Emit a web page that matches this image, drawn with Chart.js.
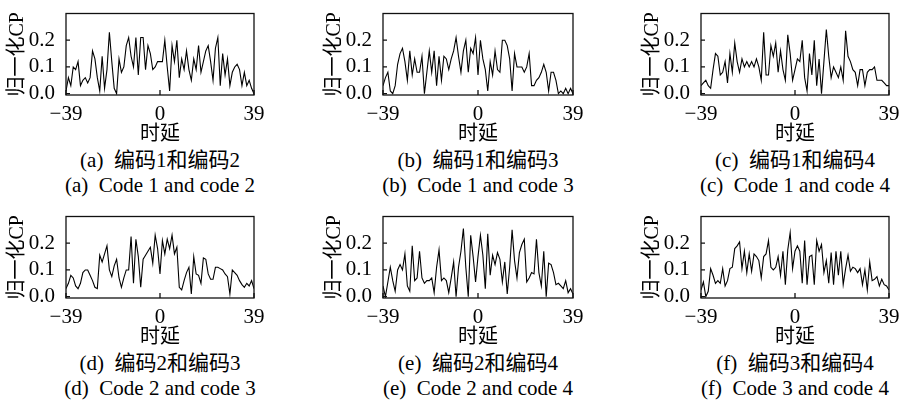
<!DOCTYPE html>
<html>
<head>
<meta charset="utf-8">
<script src="https://cdn.jsdelivr.net/npm/chart.js@4.4.1/dist/chart.umd.min.js"></script>
<style>
  body { margin: 0; background: #fff; width: 901px; height: 405px; position: relative; overflow: hidden; }
  canvas { position: absolute; }
  .cap { position: absolute; width: 280px; text-align: center; font-size: 21px; line-height: 24px;
         font-family: "Liberation Serif", "Noto Sans CJK SC"; color: #000; white-space: pre; }
</style>
</head>
<body>
<script>
// normalised cross-correlation, one list per code pair (lag -39 .. 39)
const cp12 = [0.01,0.06,0.03,0.10,0.09,0.12,0.03,0.05,0.06,0.04,
  0.06,0.16,0.13,0.06,0.01,0.14,0.02,0.09,0.23,0.12,
  0.02,0.00,0.13,0.08,0.10,0.18,0.21,0.14,0.10,0.21,
  0.07,0.21,0.21,0.09,0.18,0.15,0.09,0.10,0.12,0.12,
  0.12,0.20,0.10,0.01,0.18,0.12,0.20,0.06,0.13,0.09,
  0.16,0.09,0.05,0.13,0.09,0.18,0.08,0.12,0.16,0.18,
  0.12,0.05,0.17,0.21,0.03,0.15,0.07,0.13,0.03,0.08,
  0.10,0.11,0.09,0.03,0.08,0.03,0.05,0.02,0.00];
const cp13 = [0.03,0.06,0.08,0.01,0.00,0.03,0.11,0.15,0.17,0.12,
  0.05,0.16,0.07,0.13,0.08,0.08,0.14,0.00,0.08,0.16,
  0.08,0.16,0.03,0.14,0.05,0.14,0.13,0.09,0.13,0.16,
  0.21,0.14,0.08,0.16,0.20,0.08,0.17,0.15,0.21,0.07,
  0.20,0.13,0.09,0.01,0.12,0.07,0.16,0.09,0.08,0.20,
  0.20,0.18,0.13,0.01,0.15,0.10,0.10,0.10,0.08,0.10,
  0.15,0.03,0.03,0.05,0.06,0.08,0.11,0.08,0.01,0.08,
  0.08,0.05,0.00,0.01,0.00,0.02,0.00,0.02,0.00];
const cp14 = [0.03,0.04,0.05,0.03,0.02,0.09,0.15,0.14,0.07,0.08,
  0.12,0.04,0.15,0.08,0.19,0.12,0.08,0.13,0.10,0.12,
  0.10,0.12,0.10,0.13,0.10,0.05,0.23,0.07,0.07,0.18,
  0.14,0.19,0.08,0.16,0.09,0.05,0.22,0.15,0.05,0.09,
  0.13,0.12,0.20,0.06,0.01,0.15,0.07,0.20,0.03,0.13,
  0.00,0.12,0.24,0.14,0.06,0.10,0.08,0.06,0.10,0.05,
  0.235,0.14,0.12,0.09,0.08,0.03,0.09,0.09,0.03,0.08,
  0.09,0.09,0.10,0.05,0.05,0.05,0.04,0.03,0.03];
const cp23 = [0.03,0.05,0.08,0.07,0.04,0.03,0.05,0.09,0.10,0.10,
  0.08,0.06,0.035,0.03,0.155,0.13,0.16,0.19,0.10,0.075,
  0.115,0.14,0.07,0.035,0.07,0.10,0.10,0.225,0.05,0.215,
  0.15,0.035,0.14,0.155,0.17,0.185,0.125,0.23,0.18,0.085,
  0.21,0.16,0.215,0.18,0.23,0.16,0.185,0.035,0.025,0.06,
  0.09,0.11,0.01,0.15,0.085,0.08,0.05,0.145,0.14,0.085,
  0.065,0.065,0.11,0.11,0.105,0.10,0.085,0.075,0.01,0.10,
  0.09,0.08,0.06,0.045,0.035,0.05,0.04,0.06,0.03];
const cp24 = [0.04,0.00,0.055,0.11,0.06,0.02,0.10,0.12,0.10,0.16,
  0.04,0.02,0.19,0.06,0.07,0.17,0.07,0.05,0.06,0.06,
  0.07,0.015,0.11,0.175,0.06,0.07,0.06,0.015,0.07,0.13,
  0.00,0.11,0.17,0.255,0.11,0.00,0.23,0.15,0.055,0.15,
  0.23,0.155,0.03,0.235,0.08,0.155,0.12,0.165,0.14,0.055,
  0.13,0.01,0.11,0.25,0.135,0.07,0.165,0.195,0.215,0.055,
  0.07,0.09,0.085,0.215,0.09,0.04,0.17,0.00,0.125,0.12,
  0.09,0.045,0.05,0.04,0.03,0.06,0.015,0.03,0.01];
const cp34 = [0.025,0.055,0.00,0.02,0.105,0.08,0.05,0.06,0.05,0.105,
  0.04,0.06,0.105,0.11,0.18,0.19,0.205,0.105,0.17,0.09,
  0.16,0.095,0.16,0.15,0.135,0.07,0.15,0.16,0.21,0.11,
  0.10,0.11,0.15,0.08,0.17,0.045,0.175,0.24,0.105,0.17,
  0.19,0.17,0.05,0.21,0.045,0.15,0.155,0.045,0.21,0.17,
  0.195,0.09,0.135,0.05,0.165,0.045,0.17,0.08,0.17,0.045,
  0.105,0.155,0.095,0.11,0.105,0.09,0.105,0.045,0.10,0.025,
  0.13,0.06,0.065,0.075,0.04,0.065,0.045,0.04,0.025];

const lags = [];
for (let k = -39; k <= 39; k++) lags.push(k);

const xTicks = [-39, 0, 39];
const xTickLabels = ['\u221239', '0', '39'];
const yTicks = [0, 0.1, 0.2];

const captionsZh = ['(a)  编码1和编码2', '(b)  编码1和编码3', '(c)  编码1和编码4',
                    '(d)  编码2和编码3', '(e)  编码2和编码4', '(f)  编码3和编码4'];
const captionsEn = ['(a)  Code 1 and code 2', '(b)  Code 1 and code 3', '(c)  Code 1 and code 4',
                    '(d)  Code 2 and code 3', '(e)  Code 2 and code 4', '(f)  Code 3 and code 4'];

const series = [cp12, cp13, cp14, cp23, cp24, cp34];

// plot-area boxes on the page
const boxes = [
  { left: 66, top: 8, w: 188 }, { left: 383, top: 8, w: 190 }, { left: 701, top: 8, w: 188 },
  { left: 66, top: 211, w: 188 }, { left: 383, top: 211, w: 190 }, { left: 701, top: 211, w: 188 }
];

const FONT = '"Liberation Serif", "Noto Sans CJK SC"';
const AXIS_W = 66, AXIS_H = 52, PLOT_H = 87;

const frame = {
  id: 'frame',
  afterDatasetsDraw(chart) {
    const { ctx, chartArea: a, scales } = chart;
    ctx.save();
    ctx.strokeStyle = '#111';
    ctx.lineWidth = 1.3;
    ctx.strokeRect(a.left, a.top, a.right - a.left, a.bottom - a.top);
    ctx.beginPath();
    yTicks.forEach(v => {
      const y = scales.y.getPixelForValue(v);
      ctx.moveTo(a.left, y); ctx.lineTo(a.left + 4, y);
    });
    xTicks.forEach(v => {
      const x = scales.x.getPixelForValue(v);
      ctx.moveTo(x, a.bottom); ctx.lineTo(x, a.bottom - 5);
    });
    ctx.stroke();
    ctx.restore();
  }
};

boxes.forEach((b, i) => {
  const cv = document.createElement('canvas');
  cv.width = b.w + AXIS_W + 12;
  cv.height = 8 + PLOT_H + AXIS_H;
  cv.style.left = (b.left - AXIS_W) + 'px';
  cv.style.top = (b.top - 8) + 'px';
  document.body.appendChild(cv);

  new Chart(cv, {
    type: 'line',
    data: {
      datasets: [{
        data: lags.map((x, j) => ({ x: x, y: series[i][j] })),
        borderColor: '#000',
        borderWidth: 1.1,
        pointRadius: 0,
        tension: 0,
        fill: false
      }]
    },
    options: {
      responsive: false,
      animation: false,
      events: [],
      layout: { padding: { left: 0, top: 8, right: 12, bottom: 0 } },
      plugins: { legend: { display: false }, tooltip: { enabled: false } },
      scales: {
        x: {
          type: 'linear', min: -39, max: 39,
          grid: { display: false }, border: { display: false },
          afterBuildTicks: s => { s.ticks = xTicks.map(v => ({ value: v })); },
          afterFit: s => { s.height = AXIS_H; },
          ticks: {
            font: { family: FONT, size: 21, lineHeight: 1 }, color: '#000', padding: 1,
            maxRotation: 0, autoSkip: false,
            callback: v => xTickLabels[xTicks.indexOf(v)]
          },
          title: {
            display: true, text: '时延', color: '#000',
            font: { family: FONT, size: 20, lineHeight: 1.2 }, padding: { top: 0, bottom: 0 }
          }
        },
        y: {
          min: -0.005, max: 0.3,
          grid: { display: false }, border: { display: false },
          afterBuildTicks: s => { s.ticks = yTicks.map(v => ({ value: v })); },
          afterFit: s => { s.width = AXIS_W; },
          ticks: {
            font: { family: FONT, size: 21, lineHeight: 1 }, color: '#000', padding: 3,
            callback: v => v.toFixed(1)
          },
          title: {
            display: true, text: '归一化CP', color: '#000',
            font: { family: FONT, size: 20, lineHeight: 1.2 }, padding: { top: 6, bottom: 0 }
          }
        }
      }
    },
    plugins: [frame]
  });

  const cx = b.left + b.w / 2;
  const zh = document.createElement('div');
  zh.className = 'cap';
  zh.textContent = captionsZh[i];
  zh.style.left = (cx - 140) + 'px';
  zh.style.top = (b.top + 152 - 12) + 'px';
  document.body.appendChild(zh);

  const en = document.createElement('div');
  en.className = 'cap';
  en.textContent = captionsEn[i];
  en.style.left = (cx - 140) + 'px';
  en.style.top = (b.top + 177 - 12) + 'px';
  document.body.appendChild(en);
});
</script>
</body>
</html>
